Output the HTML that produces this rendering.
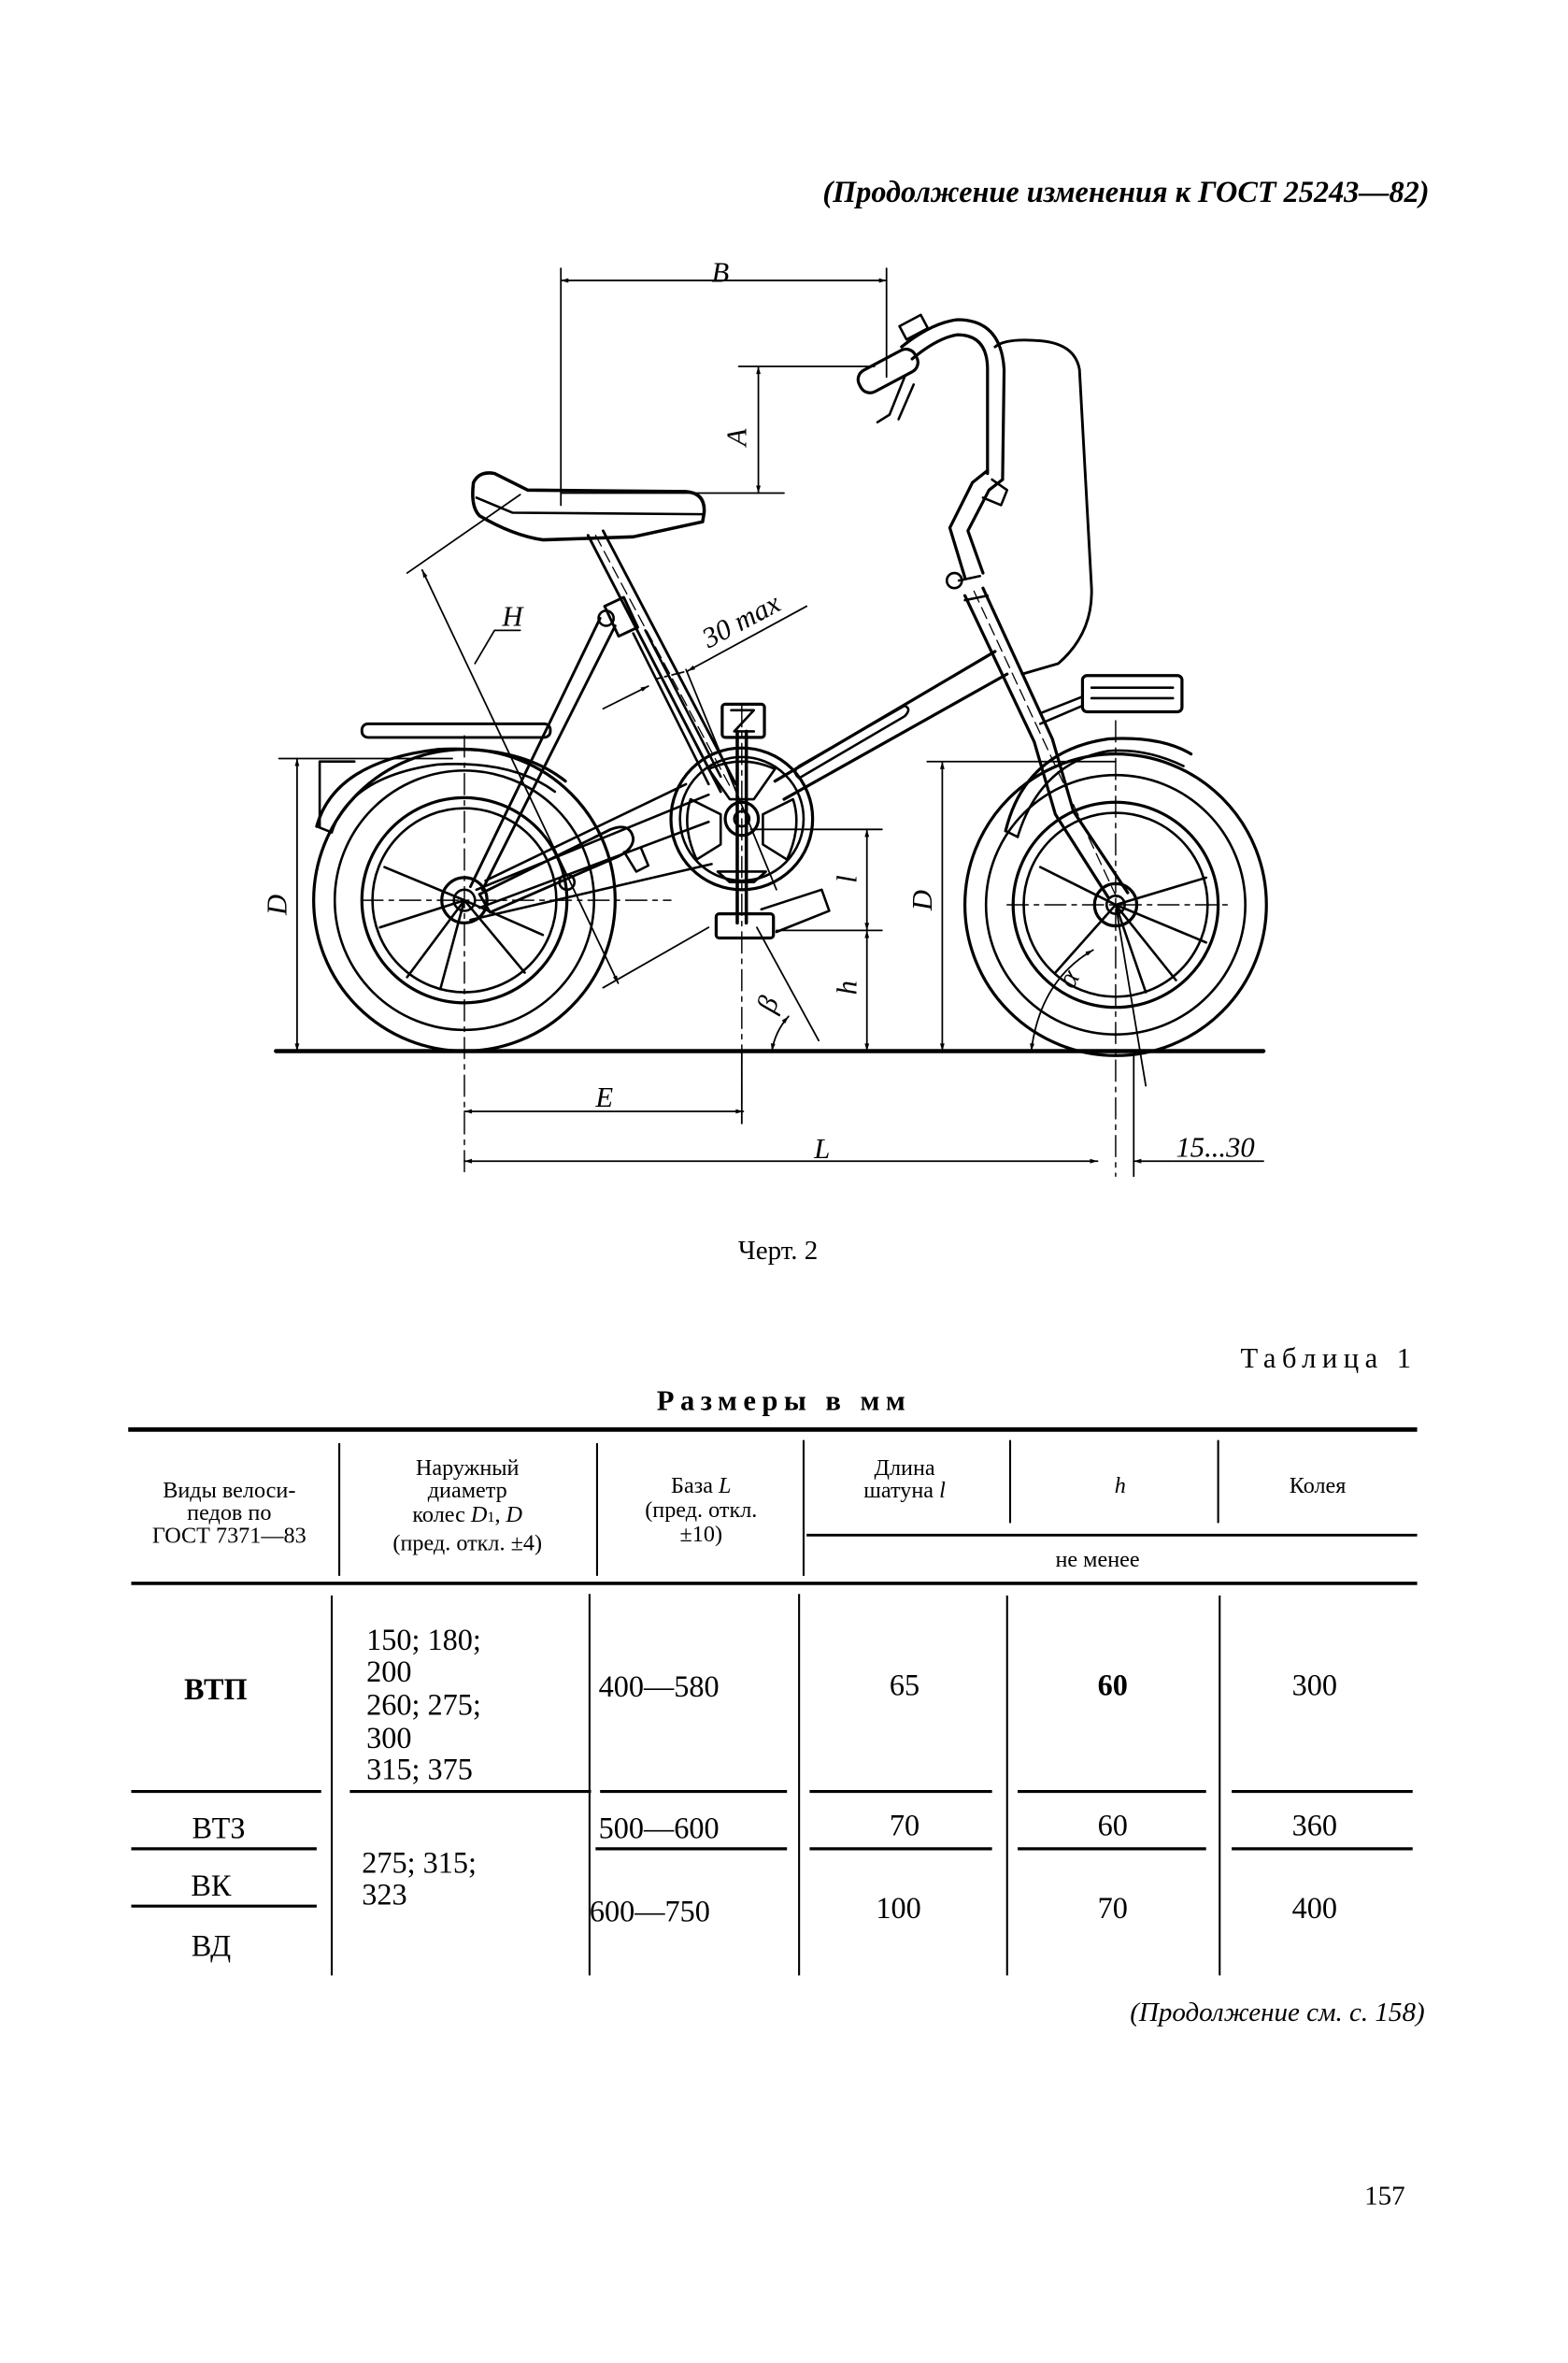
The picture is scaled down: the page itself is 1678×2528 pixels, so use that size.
<!DOCTYPE html>
<html><head><meta charset="utf-8">
<style>
html,body{margin:0;padding:0;background:#fff;}
svg{display:block;}
text{font-family:"Liberation Serif",serif;fill:#000;}
.s{font-family:"Liberation Sans",sans-serif;font-style:italic;}
</style></head>
<body>
<svg width="1678" height="2528" viewBox="0 0 1040 1567" xmlns="http://www.w3.org/2000/svg">
<defs>
<marker id="a" viewBox="0 0 10 10" refX="10" refY="5" markerWidth="9" markerHeight="5" orient="auto-start-reverse" markerUnits="userSpaceOnUse"><path d="M0,2 L10,5 L0,8 z" fill="#000"/></marker>
</defs>
<rect width="1040" height="1567" fill="#fff"/>

<text x="948" y="134" text-anchor="end" font-size="20" font-style="italic" font-weight="bold">(Продолжение изменения к ГОСТ 25243—82)</text>

<g fill="none" stroke="#000" stroke-width="1.6" stroke-linecap="round" stroke-linejoin="round">
<!-- ground -->
<line x1="183" y1="697" x2="838" y2="697" stroke-width="2.8"/>
<!-- rear wheel -->
<circle cx="308" cy="597" r="100" stroke-width="2"/>
<circle cx="308" cy="597" r="86"/>
<circle cx="308" cy="597" r="68" stroke-width="2"/>
<circle cx="308" cy="597" r="61"/>
<circle cx="308" cy="597" r="15" stroke-width="2"/>
<circle cx="308" cy="597" r="7"/>
<path d="M308,597 L255,575 M308,597 L252,615 M308,597 L270,648 M308,597 L292,656 M308,597 L348,645 M308,597 L360,620"/>
<!-- front wheel -->
<circle cx="740" cy="600" r="100" stroke-width="2"/>
<circle cx="740" cy="600" r="86"/>
<circle cx="740" cy="600" r="68" stroke-width="2"/>
<circle cx="740" cy="600" r="61"/>
<circle cx="740" cy="600" r="14" stroke-width="2"/>
<circle cx="740" cy="600" r="6"/>
<path d="M740,600 L800,582 M740,600 L800,625 M740,600 L780,650 M740,600 L760,658 M740,600 L700,645 M740,600 L690,575"/>
<!-- centre lines -->
<g stroke-width="0.9" stroke-dasharray="14,4,3,4">
<line x1="240" y1="597" x2="445" y2="597"/>
<line x1="668" y1="600" x2="815" y2="600"/>
<line x1="308" y1="488" x2="308" y2="780"/>
<line x1="492" y1="468" x2="492" y2="745"/>
<line x1="740" y1="478" x2="740" y2="780"/>
</g>
<!-- rear fender & rack -->
<path d="M210,548 Q222,505 290,497 Q345,494 375,518" stroke-width="2"/>
<path d="M220,552 Q232,515 290,507 Q340,504 368,525"/>
<path d="M210,548 L220,552"/>
<path d="M212,505 L212,548 M212,505 L235,505"/>
<rect x="240" y="480" width="125" height="9" rx="4" stroke-width="1.8"/>
<!-- chainring -->
<circle cx="492" cy="543" r="47" stroke-width="2"/>
<circle cx="492" cy="543" r="41"/>
<circle cx="492" cy="543" r="11" stroke-width="2"/>
<circle cx="492" cy="543" r="5"/>
<path d="M470,510 Q492,500 514,510 L500,530 L484,530 Z"/>
<path d="M458,530 L478,540 L478,560 L462,570 Q452,548 458,530 Z"/>
<path d="M526,530 L506,540 L506,560 L522,570 Q532,548 526,530 Z"/>
<path d="M476,578 L508,578 L500,585 L484,585 Z"/>
<!-- crank & pedals -->
<line x1="489" y1="485" x2="489" y2="612" stroke-width="2.2"/>
<line x1="495" y1="485" x2="495" y2="612" stroke-width="2.2"/>
<rect x="479" y="467" width="28" height="22" rx="2" stroke-width="2"/>
<path d="M485,471 L500,471 L487,485 L500,485"/>
<rect x="475" y="606" width="38" height="16" rx="2" stroke-width="2"/>
<path d="M505,603 L545,590 L550,604 L515,618"/>
<!-- chain stays / chain guard -->
<line x1="316" y1="590" x2="470" y2="527"/>
<line x1="318" y1="602" x2="470" y2="545"/>
<path d="M312,610 L472,573"/>
<path d="M322,584 L455,520"/>
<path d="M318,593 L405,550 Q418,545 420,556 Q420,563 410,568 L325,605 Z" stroke-width="1.8"/>
<circle cx="376" cy="585" r="5"/>
<path d="M414,565 L422,578 L430,574 L425,562"/>
<!-- seat stays -->
<path d="M312,588 L398,410 M320,590 L408,415" stroke-width="1.8"/>
<circle cx="402" cy="410" r="5"/>
<!-- seat tube -->
<path d="M390,355 L478,525 M400,352 L488,520" stroke-width="1.8"/>
<path d="M395,355 L485,523" stroke-width="0.8" stroke-dasharray="8,4"/>
<rect x="405" y="398" width="14" height="22" transform="rotate(-25 412 409)" stroke-width="1.8"/>
<path d="M420,420 L470,520 M428,418 L478,515"/>
<!-- seat -->
<path d="M314,320 Q318,312 328,314 L350,325 L455,326 Q468,327 467,340 L466,346 L420,356 L360,358 Q340,355 318,342 Q312,336 314,320 Z" stroke-width="2.2"/>
<path d="M316,330 L340,340 L466,341"/>
<!-- down tube -->
<path d="M514,518 L660,432 M520,530 L668,447" stroke-width="2"/>
<path d="M530,508 Q525,512 530,516 L600,475 Q605,470 600,468 Z"/>
<!-- head tube / fork / stem -->
<path d="M640,395 L686,492 L700,540 L735,595 M652,390 L698,490 L712,538 L748,592" stroke-width="2"/>
<path d="M646,392 L742,598" stroke-width="0.8" stroke-dasharray="8,4"/>
<path d="M636,385 L650,382 M640,398 L655,395"/>
<circle cx="633" cy="385" r="5"/>
<path d="M640,383 L630,350 L645,320 L655,312 M652,380 L642,352 L656,325 L665,318" stroke-width="2"/>
<path d="M655,314 L655,245 Q655,222 635,222 Q622,224 605,238 M665,318 L666,245 Q664,212 635,212 Q618,214 598,230" stroke-width="2"/>
<rect x="568" y="238" width="42" height="16" rx="7" transform="rotate(-28 589 246)" stroke-width="2"/>
<path d="M600,250 L590,275 L582,280 M606,255 L596,278"/>
<rect x="598" y="212" width="16" height="10" transform="rotate(-28 606 217)"/>
<path d="M658,318 L668,325 L664,335 L652,330"/>
<!-- board -->
<path d="M660,230 Q667,224 690,226 Q713,228 716,245 L724,390 Q725,420 702,440 L678,447" stroke-width="1.8"/>
<!-- front carrier pedal -->
<rect x="718" y="448" width="66" height="24" rx="3" stroke-width="2"/>
<path d="M724,456 L778,456 M724,463 L778,463"/>
<path d="M690,473 L718,462 M690,480 L718,468"/>
<!-- front fender -->
<path d="M667,551 Q680,498 735,490 Q770,488 790,500" stroke-width="2"/>
<path d="M675,555 Q690,506 735,498 Q760,496 785,508"/>
<path d="M667,551 L675,555"/>

<!-- dimension lines -->
<g stroke-width="1.1">
<line x1="372" y1="178" x2="372" y2="335"/>
<line x1="588" y1="178" x2="588" y2="250"/>
<line x1="372" y1="186" x2="588" y2="186" marker-start="url(#a)" marker-end="url(#a)"/>
<line x1="490" y1="243" x2="580" y2="243"/>
<line x1="372" y1="327" x2="520" y2="327"/>
<line x1="503" y1="243" x2="503" y2="327" marker-start="url(#a)" marker-end="url(#a)"/>
<!-- H -->
<line x1="270" y1="380" x2="345" y2="328"/>
<line x1="400" y1="655" x2="470" y2="615"/>
<line x1="280" y1="378" x2="410" y2="652" marker-start="url(#a)" marker-end="url(#a)"/>
<path d="M315,440 L328,418 L345,418"/>
<!-- 30 max -->
<line x1="400" y1="470" x2="430" y2="455" marker-end="url(#a)"/>
<line x1="456" y1="445" x2="535" y2="402" marker-start="url(#a)"/>
<line x1="436" y1="450" x2="456" y2="445" stroke-dasharray="3,2"/>
<line x1="455" y1="444" x2="515" y2="590"/>
<!-- D left -->
<line x1="185" y1="503" x2="300" y2="503"/>
<line x1="197" y1="503" x2="197" y2="697" marker-start="url(#a)" marker-end="url(#a)"/>
<!-- D right -->
<line x1="615" y1="505" x2="740" y2="505"/>
<line x1="625" y1="505" x2="625" y2="697" marker-start="url(#a)" marker-end="url(#a)"/>
<!-- l, h -->
<line x1="498" y1="550" x2="585" y2="550"/>
<line x1="515" y1="617" x2="585" y2="617"/>
<line x1="575" y1="550" x2="575" y2="617" marker-start="url(#a)" marker-end="url(#a)"/>
<line x1="575" y1="617" x2="575" y2="697" marker-start="url(#a)" marker-end="url(#a)"/>
<!-- beta -->
<line x1="502" y1="615" x2="543" y2="690"/>
<path d="M512,697 Q514,684 523,674" marker-start="url(#a)" marker-end="url(#a)"/>
<!-- alpha -->
<line x1="740" y1="600" x2="760" y2="720"/>
<path d="M684,697 Q690,650 725,630" marker-start="url(#a)" marker-end="url(#a)"/>
<!-- E, L -->
<line x1="492" y1="697" x2="492" y2="745"/>
<line x1="308" y1="737" x2="493" y2="737" marker-start="url(#a)" marker-end="url(#a)"/>
<line x1="308" y1="770" x2="728" y2="770" marker-start="url(#a)" marker-end="url(#a)"/>
<line x1="752" y1="700" x2="752" y2="780"/>
<line x1="752" y1="770" x2="775" y2="770" marker-start="url(#a)"/>
<line x1="775" y1="770" x2="838" y2="770"/>
</g>
</g>

<g class="s" font-size="19">
<text x="472" y="187">B</text>
<text transform="translate(495,290) rotate(-90)" text-anchor="middle">A</text>
<text x="333" y="415">H</text>
<text transform="translate(470,430) rotate(-28)">30 max</text>
<text transform="translate(190,600) rotate(-90)" text-anchor="middle">D</text>
<text transform="translate(618,597) rotate(-90)" text-anchor="middle">D</text>
<text transform="translate(568,583) rotate(-90)" text-anchor="middle">l</text>
<text transform="translate(568,655) rotate(-90)" text-anchor="middle">h</text>
<text transform="translate(515,668) rotate(-70)" text-anchor="middle">β</text>
<text transform="translate(714,652) rotate(-60)" text-anchor="middle">α</text>
<text x="395" y="734">E</text>
<text x="540" y="768">L</text>
<text x="780" y="767">15...30</text>
</g>

<text x="516" y="835" text-anchor="middle" font-size="18">Черт. 2</text>

<text x="940" y="907" text-anchor="end" font-size="19" letter-spacing="4">Таблица 1</text>
<text x="520" y="935" text-anchor="middle" font-size="19" font-weight="bold" letter-spacing="4">Размеры в мм</text>

<!-- table lines -->
<g stroke="#000" fill="none">
<line x1="85" y1="948" x2="940" y2="948" stroke-width="3"/>
<line x1="87" y1="1050" x2="940" y2="1050" stroke-width="2.2"/>
<line x1="535" y1="1018" x2="940" y2="1018" stroke-width="1.8"/>
<g stroke-width="1.3">
<line x1="225" y1="957" x2="225" y2="1045"/>
<line x1="396" y1="957" x2="396" y2="1045"/>
<line x1="533" y1="955" x2="533" y2="1045"/>
<line x1="670" y1="955" x2="670" y2="1010"/>
<line x1="808" y1="955" x2="808" y2="1010"/>
<line x1="220" y1="1058" x2="220" y2="1310"/>
<line x1="391" y1="1057" x2="391" y2="1310"/>
<line x1="530" y1="1057" x2="530" y2="1310"/>
<line x1="668" y1="1058" x2="668" y2="1310"/>
<line x1="809" y1="1058" x2="809" y2="1310"/>
</g>
<g stroke-width="2">
<line x1="87" y1="1188" x2="213" y2="1188"/>
<line x1="232" y1="1188" x2="392" y2="1188"/>
<line x1="398" y1="1188" x2="522" y2="1188"/>
<line x1="537" y1="1188" x2="658" y2="1188"/>
<line x1="675" y1="1188" x2="800" y2="1188"/>
<line x1="817" y1="1188" x2="937" y2="1188"/>
<line x1="87" y1="1226" x2="210" y2="1226"/>
<line x1="395" y1="1226" x2="522" y2="1226"/>
<line x1="537" y1="1226" x2="658" y2="1226"/>
<line x1="675" y1="1226" x2="800" y2="1226"/>
<line x1="817" y1="1226" x2="937" y2="1226"/>
<line x1="87" y1="1264" x2="210" y2="1264"/>
</g>
</g>

<g font-size="15" text-anchor="middle">
<text x="152" y="993">Виды велоси-</text>
<text x="152" y="1008">педов по</text>
<text x="152" y="1023">ГОСТ 7371—83</text>
<text x="310" y="978">Наружный</text>
<text x="310" y="993">диаметр</text>
<text x="310" y="1009">колес <tspan font-style="italic">D</tspan><tspan font-size="10">1</tspan>, <tspan font-style="italic">D</tspan></text>
<text x="310" y="1028">(пред. откл. ±4)</text>
<text x="465" y="990">База <tspan font-style="italic">L</tspan></text>
<text x="465" y="1006">(пред. откл.</text>
<text x="465" y="1022">±10)</text>
<text x="600" y="978">Длина</text>
<text x="600" y="993">шатуна <tspan font-style="italic">l</tspan></text>
<text x="743" y="990" font-style="italic">h</text>
<text x="874" y="990">Колея</text>
<text x="728" y="1039">не менее</text>
</g>

<g font-size="20">
<text x="143" y="1127" text-anchor="middle" font-weight="bold">ВТП</text>
<text x="243" y="1094">150; 180;</text>
<text x="243" y="1115">200</text>
<text x="243" y="1137">260; 275;</text>
<text x="243" y="1159">300</text>
<text x="243" y="1180">315; 375</text>
<text x="397" y="1125">400—580</text>
<text x="600" y="1124" text-anchor="middle">65</text>
<text x="738" y="1124" text-anchor="middle" font-weight="bold">60</text>
<text x="872" y="1124" text-anchor="middle">300</text>
<text x="145" y="1219" text-anchor="middle">ВТЗ</text>
<text x="397" y="1219">500—600</text>
<text x="600" y="1217" text-anchor="middle">70</text>
<text x="738" y="1217" text-anchor="middle">60</text>
<text x="872" y="1217" text-anchor="middle">360</text>
<text x="140" y="1257" text-anchor="middle">ВК</text>
<text x="240" y="1242">275; 315;</text>
<text x="240" y="1263">323</text>
<text x="391" y="1274">600—750</text>
<text x="596" y="1272" text-anchor="middle">100</text>
<text x="738" y="1272" text-anchor="middle">70</text>
<text x="872" y="1272" text-anchor="middle">400</text>
<text x="140" y="1297" text-anchor="middle">ВД</text>
</g>

<text x="945" y="1340" text-anchor="end" font-size="18" font-style="italic">(Продолжение см. с. 158)</text>
<text x="932" y="1462" text-anchor="end" font-size="18">157</text>
</svg>
</body></html>
